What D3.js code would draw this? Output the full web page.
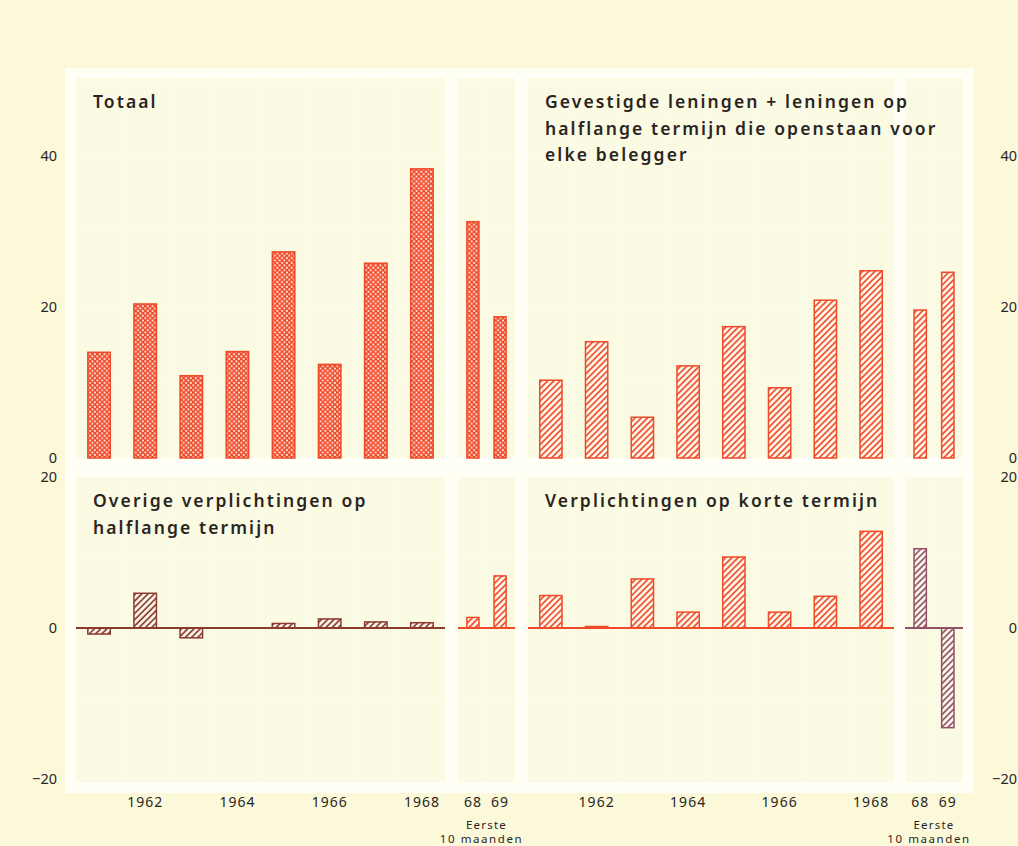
<!DOCTYPE html>
<html>
<head>
<meta charset="utf-8">
<script src="https://cdn.jsdelivr.net/npm/d3@7"></script>
<style>
  html, body { margin: 0; padding: 0; background: #fbf9da; }
  svg { display: block; }
  text { font-family: "Noto Sans", "Lato", sans-serif; fill: #2a2522; }
</style>
</head>
<body>
<svg id="chart" width="1018" height="846"></svg>
<script>
// ---------- data ----------
const years = ["1961", "1962", "1963", "1964", "1965", "1966", "1967", "1968"];
const recent = ["68", "69"];
const yearTickLabels = ["1962", "1964", "1966", "1968"];
const topTicks = [0, 20, 40];
const bottomTicks = [-20, 0, 20];

const titleTotaal = ["Totaal"];
const titleGevestigd = ["Gevestigde leningen + leningen op", "halflange termijn die openstaan voor", "elke belegger"];
const titleOverige = ["Overige verplichtingen op", "halflange termijn"];
const titleKort = ["Verplichtingen op korte termijn"];

const totaal = [14.0, 20.4, 10.9, 14.1, 27.3, 12.4, 25.8, 38.3];
const totaalRecent = [31.3, 18.7];
const gevestigd = [10.3, 15.4, 5.4, 12.2, 17.4, 9.3, 20.9, 24.8];
const gevestigdRecent = [19.6, 24.6];
const overige = [-0.8, 4.6, -1.3, 0, 0.6, 1.2, 0.8, 0.7];
const overigeRecent = [1.4, 6.9];
const kort = [4.3, 0.2, 6.5, 2.1, 9.4, 2.1, 4.2, 12.8];
const kortRecent = [10.5, -13.2];

// ---------- colours ----------
const RED = "#ef4a2a";
const BROWN = "#8a3a2e";
const PURPLE = "#925068";
const PANEL = "#fbfae3";
const FRAME = "#fffff6";

const svg = d3.select("#chart");
const defs = svg.append("defs");

// dotted crosshatch pattern
const dots = defs.append("pattern").attr("id", "dots")
  .attr("patternUnits", "userSpaceOnUse").attr("width", 4.8).attr("height", 4.8);
dots.append("rect").attr("width", 4.8).attr("height", 4.8).attr("fill", RED);
dots.append("rect").attr("x", 0.4).attr("y", 0.4).attr("width", 1.8).attr("height", 1.8).attr("fill", "#fff8f0");
dots.append("rect").attr("x", 2.8).attr("y", 2.8).attr("width", 1.8).attr("height", 1.8).attr("fill", "#fff8f0");

function hatch(id, color) {
  const p = defs.append("pattern").attr("id", id)
    .attr("patternUnits", "userSpaceOnUse").attr("width", 4.4).attr("height", 4.4)
    .attr("patternTransform", "rotate(45)");
  p.append("rect").attr("width", 4.4).attr("height", 4.4).attr("fill", "#fffbee");
  p.append("line").attr("x1", 1).attr("x2", 1).attr("y1", 0).attr("y2", 4.4)
    .attr("stroke", color).attr("stroke-width", 1.7);
}
hatch("hRed", RED);
hatch("hBrown", BROWN);
hatch("hPurple", PURPLE);

// ---------- layout ----------
const frame = { x: 65, y: 68, w: 908, h: 725 };
const cols = [
  { main: [76, 445], small: [458, 515] },
  { main: [528, 894], small: [905, 963] }
];
const yTop = d3.scaleLinear().domain([0, 40]).range([458, 156]);
const yBot = d3.scaleLinear().domain([-20, 20]).range([779, 477]);
const rowTop = { y0: 78, y1: 458, y: yTop };
const rowBot = { y0: 477, y1: 782, y: yBot };

svg.append("rect").attr("x", frame.x).attr("y", frame.y).attr("width", frame.w).attr("height", frame.h).attr("fill", FRAME);

function panel(col, row, title, mainData, smallData, mainFill, mainColor, smallFill, smallColor, baseline) {
  const y = row.y;
  const xMain = d3.scaleBand().domain(years).range(col.main).paddingInner(0.48).paddingOuter(0.24);
  const xSmall = d3.scaleBand().domain(recent).range(col.small).paddingInner(0.5).paddingOuter(0.3);

  [[col.main, xMain], [col.small, xSmall]].forEach(([r, xs]) => {
    svg.append("rect").attr("x", r[0]).attr("y", row.y0).attr("width", r[1] - r[0]).attr("height", row.y1 - row.y0).attr("fill", PANEL);
    // faint grid
    const g = svg.append("g").attr("stroke", "#ffffff").attr("stroke-opacity", 0.35).attr("stroke-width", 1);
    const step = xs.step();
    xs.domain().slice(0, -1).forEach(d => {
      const gx = xs(d) + xs.bandwidth() + (step - xs.bandwidth()) / 2;
      g.append("line").attr("x1", gx).attr("x2", gx).attr("y1", row.y0).attr("y2", row.y1);
    });
    d3.range(Math.ceil(y.invert(row.y1) / 10) * 10, y.invert(row.y0), 10).forEach(v => {
      g.append("line").attr("x1", r[0]).attr("x2", r[1]).attr("y1", y(v)).attr("y2", y(v));
    });
  });

  function bars(data, xs, fill, color) {
    svg.append("g").selectAll("rect").data(data).join("rect")
      .attr("x", (d, i) => xs(xs.domain()[i]) + 0.75)
      .attr("width", xs.bandwidth() - 1.5)
      .attr("y", d => Math.min(y(d), y(0)))
      .attr("height", d => Math.abs(y(d) - y(0)))
      .attr("fill", fill).attr("stroke", color).attr("stroke-width", 1.5);
  }
  bars(mainData, xMain, mainFill, mainColor);
  bars(smallData, xSmall, smallFill, smallColor);

  if (baseline) {
    svg.append("line").attr("x1", col.main[0]).attr("x2", col.main[1]).attr("y1", y(0)).attr("y2", y(0))
      .attr("stroke", mainColor).attr("stroke-width", 2);
    svg.append("line").attr("x1", col.small[0]).attr("x2", col.small[1]).attr("y1", y(0)).attr("y2", y(0))
      .attr("stroke", smallColor).attr("stroke-width", 2);
  }

  svg.append("text").attr("x", col.main[0] + 17).attr("y", row.y0 + 30)
    .style("font-size", "17.5px").style("font-weight", 600).style("letter-spacing", "2.1px")
    .selectAll("tspan").data(title).join("tspan")
    .attr("x", col.main[0] + 17).attr("dy", (d, i) => i === 0 ? 0 : 26.5).text(d => d);

  return { xMain, xSmall };
}

const tl = panel(cols[0], rowTop, titleTotaal, totaal, totaalRecent, "url(#dots)", RED, "url(#dots)", RED, false);
const tr = panel(cols[1], rowTop, titleGevestigd, gevestigd, gevestigdRecent, "url(#hRed)", RED, "url(#hRed)", RED, false);
const bl = panel(cols[0], rowBot, titleOverige, overige, overigeRecent, "url(#hBrown)", BROWN, "url(#hRed)", RED, true);
const br = panel(cols[1], rowBot, titleKort, kort, kortRecent, "url(#hRed)", RED, "url(#hPurple)", PURPLE, true);

// ---------- y axes ----------
function yAxis(xPos, scale, ticks) {
  const g = svg.append("g").attr("transform", `translate(${xPos},0)`)
    .call(d3.axisLeft(scale).tickValues(ticks).tickSize(0).tickPadding(2)
      .tickFormat(d => d < 0 ? "\u2212" + Math.abs(d) : d));
  g.select(".domain").remove();
  g.selectAll("text").style("font-family", "'Noto Sans', sans-serif").style("font-size", "14.5px").attr("fill", "#2a2522");
}
yAxis(59, yTop, topTicks);
yAxis(59, yBot, bottomTicks);
yAxis(1019, yTop, topTicks);
yAxis(1019, yBot, bottomTicks);

// ---------- x axes ----------
[[tl, cols[0]], [tr, cols[1]]].forEach(([p, col]) => {
  const gm = svg.append("g").attr("transform", "translate(0,795)")
    .call(d3.axisBottom(p.xMain).tickValues(yearTickLabels).tickSize(0).tickPadding(2));
  gm.select(".domain").remove();
  gm.selectAll("text").style("font-family", "'Noto Sans', sans-serif").style("font-size", "14px")
    .style("letter-spacing", "1px").attr("fill", "#2a2522");
  const gs = svg.append("g").attr("transform", "translate(0,795)")
    .call(d3.axisBottom(p.xSmall).tickSize(0).tickPadding(2));
  gs.select(".domain").remove();
  gs.selectAll("text").style("font-family", "'Noto Sans', sans-serif").style("font-size", "14px")
    .style("letter-spacing", "1px").attr("fill", "#2a2522");
  const cx = (col.small[0] + col.small[1]) / 2;
  svg.append("text").attr("x", cx).attr("y", 829).attr("text-anchor", "middle")
    .style("font-size", "11.5px").style("letter-spacing", "1.2px").text("Eerste");
  svg.append("text").attr("x", cx - 5).attr("y", 843).attr("text-anchor", "middle")
    .style("font-size", "11.5px").style("letter-spacing", "1.6px").text("10 maanden");
});
</script>
</body>
</html>
